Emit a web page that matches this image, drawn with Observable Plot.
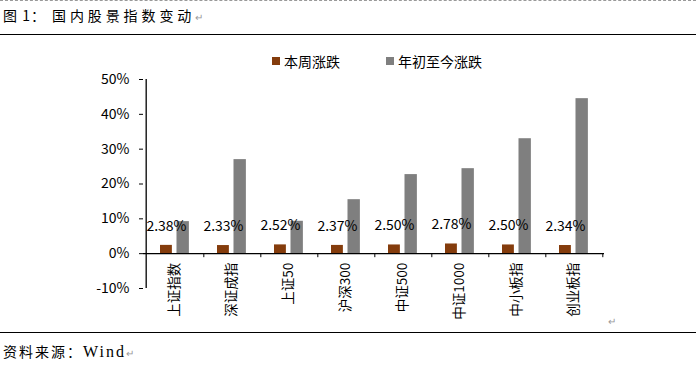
<!DOCTYPE html>
<html>
<head>
<meta charset="utf-8">
<script src="https://cdn.jsdelivr.net/npm/d3@7"></script>
<script src="https://cdn.jsdelivr.net/npm/@observablehq/plot@0.6"></script>
<style>
  body { margin: 0; background: #fff; }
  #wrap { position: relative; width: 696px; height: 370px; overflow: hidden; font-family: "Noto Sans CJK SC", sans-serif; }
  #wrap svg { position: absolute; left: 0; top: 0; }
  .abs { position: absolute; white-space: nowrap; }
  .mark { color: #999; font-size: 10px; letter-spacing: 0; }
</style>
</head>
<body>
<div id="wrap">
  <div class="abs" style="left:0;top:0;width:696px;border-top:1px dashed #999;"></div>
  <div class="abs" style="left:3px;top:5px;font-size:14px;letter-spacing:1px;color:#000;">图 1：</div>
  <div class="abs" style="left:52px;top:5px;font-size:14px;letter-spacing:3.9px;color:#000;">国内股景指数变动<span class="mark">↵</span></div>
  <div class="abs" style="left:0;top:34px;width:696px;border-top:1px solid #000;"></div>
  <div id="legend"></div>
  <div class="abs mark" style="left:608px;top:313px;">↵</div>
  <div class="abs" style="left:0;top:332px;width:696px;border-top:1px solid #000;"></div>
  <div class="abs" style="left:3px;top:341px;font-size:14px;color:#000;"><span style="letter-spacing:2px;">资料来源：</span><span style="font-family:'Liberation Serif',serif;font-size:16px;letter-spacing:2px;">Wind</span><span class="mark">↵</span></div>
</div>
<script>
const categories = ["上证指数","深证成指","上证50","沪深300","中证500","中证1000","中小板指","创业板指"];
const weekly = [2.38, 2.33, 2.52, 2.37, 2.50, 2.78, 2.50, 2.34];
const ytd = [9.2, 27.0, 9.3, 15.5, 22.7, 24.4, 33.0, 44.5];
const seriesNames = ["本周涨跌", "年初至今涨跌"];
const seriesColors = ["#843C0C", "#7F7F7F"];
const yTicks = [-10, 0, 10, 20, 30, 40, 50];

const wk = categories.map((c, i) => ({cat: c, v: weekly[i]}));
const yt = categories.map((c, i) => ({cat: c, v: ytd[i]}));
const step = (604 - 143) / categories.length;

const chart = Plot.plot({
  width: 696,
  height: 370,
  marginLeft: 143,
  marginRight: 92,
  marginTop: 79,
  marginBottom: 82,
  style: {fontFamily: "'Noto Sans CJK SC', sans-serif", fontSize: "14px", color: "#000", background: "transparent"},
  x: {domain: categories, padding: 0, axis: null, label: null},
  y: {domain: [-10, 50], axis: null, label: null},
  marks: [
    Plot.barY(wk, {x: "cat", y: "v", fill: seriesColors[0], insetLeft: 14, insetRight: step - 26.5}),
    Plot.barY(yt, {x: "cat", y: "v", fill: seriesColors[1], insetLeft: 30.5, insetRight: step - 43.5}),
    Plot.ruleY([0], {stroke: "#000", strokeWidth: 1.3}),
    Plot.ruleX(categories, {x: d => d, dx: step / 2, y1: 0, y2: -1.15, stroke: "#000"}),
    Plot.axisY({ticks: yTicks, tickFormat: d => d + "%", tickSize: 4, tickPadding: 10, fontSize: 14, stroke: "#000", label: null}),
    Plot.ruleX([categories[0]], {x: d => d, dx: -step / 2, y1: -10, y2: 50, stroke: "#000", strokeWidth: 1.3}),
    Plot.text(categories, {x: d => d, y: () => 0, text: d => d, rotate: -90, textAnchor: "end", dy: 9, fontSize: 13.5, fill: "#000"}),
    Plot.text(wk, {x: "cat", y: "v", text: d => d.v.toFixed(2) + "%", dx: 20.25 - step / 2, dy: -19, fontSize: 14, fill: "#000"})
  ]
});
document.getElementById("wrap").appendChild(chart);

const legend = document.getElementById("legend");
const legendPos = [272, 386];
seriesNames.forEach((name, i) => {
  const sw = document.createElement("div");
  sw.className = "abs";
  sw.style.cssText = `left:${legendPos[i]}px;top:57px;width:8px;height:8px;background:${seriesColors[i]};`;
  legend.appendChild(sw);
  const t = document.createElement("div");
  t.className = "abs";
  t.style.cssText = `left:${legendPos[i] + 12}px;top:51px;font-size:14px;color:#000;`;
  t.textContent = name;
  legend.appendChild(t);
});
</script>
</body>
</html>
